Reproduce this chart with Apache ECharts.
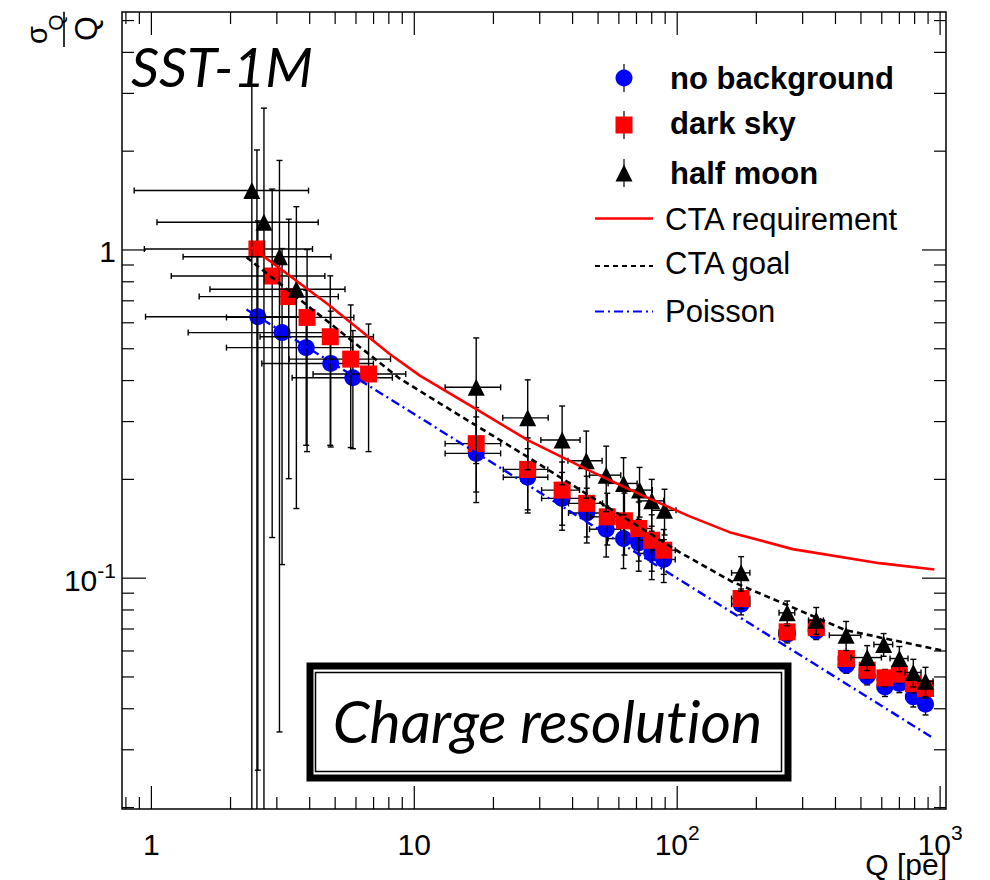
<!DOCTYPE html>
<html><head><meta charset="utf-8">
<script src="https://cdn.jsdelivr.net/npm/echarts@6/dist/echarts.min.js"></script>
<style>html,body{margin:0;padding:0;background:#fff}#c{width:990px;height:880px}#c text{font-variant-ligatures:none !important;font-feature-settings:"liga" 0,"clig" 0,"dlig" 0 !important}</style>
</head><body><div id="c"></div>
<script>
// ---------------- data ----------------
const qNoBg   = [2.54, 3.14, 3.88, 4.81, 5.84, 17.2, 27.0, 36.5, 45.3, 53.7, 62.5, 71.4, 80.0, 88.9, 175, 262, 338, 440, 528, 617, 700, 791, 880];
const sNoBg   = [0.626, 0.560, 0.504, 0.451, 0.408, 0.240, 0.203, 0.175, 0.158, 0.141, 0.132, 0.128, 0.119, 0.114, 0.0833, 0.0675, 0.069, 0.0543, 0.0503, 0.0466, 0.0478, 0.0435, 0.0413];
const qErrNoBg = [1.59, 1.76, 1.95, 2.18, 2.41, 4.1, 5.2, 6.0, 6.7, 7.3, 7.9, 8.5, 8.9, 9.4, 14, 18, 22, 30, 35, 40, 45, 48, 50];
const sErrNoBg = [0.60, 0.45, 0.25, 0.20, 0.16, 0.07, 0.045, 0.035, 0.030, 0.025, 0.025, 0.023, 0.020, 0.017, 0.006, 0.004, 0.004, 0.003, 0.003, 0.003, 0.003, 0.003, 0.003];

const qDark   = [2.52, 2.88, 3.33, 3.91, 4.79, 5.73, 6.70, 17.2, 27.0, 36.5, 45.3, 54.2, 63.0, 71.4, 80.0, 88.9, 175, 262, 338, 440, 528, 617, 700, 791, 880];
const sDark   = [1.007, 0.833, 0.721, 0.623, 0.544, 0.465, 0.419, 0.257, 0.2145, 0.1855, 0.169, 0.1538, 0.1496, 0.1417, 0.1305, 0.1217, 0.0867, 0.0686, 0.0707, 0.0569, 0.0524, 0.0497, 0.051, 0.0477, 0.0461];
const qErrDark = [1.58, 1.69, 1.81, 1.98, 2.2, 2.39, 2.58, 4.1, 5.2, 6.0, 6.7, 7.4, 7.9, 8.5, 8.9, 9.4, 14, 18, 22, 30, 35, 40, 45, 48, 50];
const sErrDark = [1.01, 0.70, 0.52, 0.38, 0.29, 0.215, 0.176, 0.074, 0.053, 0.0405, 0.0355, 0.0276, 0.032, 0.029, 0.0255, 0.019, 0.006, 0.004, 0.004, 0.003, 0.003, 0.003, 0.003, 0.003, 0.003];

const qMoon   = [2.41, 2.68, 3.07, 3.56, 17.2, 27.0, 36.5, 45.1, 53.7, 62.5, 71.9, 80.0, 89.5, 175, 262, 338, 439, 528, 610, 700, 791, 880];
const sMoon   = [1.517, 1.215, 0.954, 0.759, 0.3815, 0.308, 0.2636, 0.228, 0.206, 0.1944, 0.1855, 0.172, 0.161, 0.1038, 0.0784, 0.0744, 0.067, 0.0573, 0.0628, 0.0569, 0.0516, 0.0485];
const qErrMoon = [1.55, 1.63, 1.75, 1.89, 4.1, 5.3, 6.2, 6.7, 7.3, 7.9, 8.5, 8.9, 9.5, 14, 18, 22, 60, 70, 50, 55, 55, 60];
const sErrMoon = [2.36, 1.49, 0.92, 0.596, 0.158, 0.094, 0.071, 0.0527, 0.0465, 0.0384, 0.032, 0.028, 0.0256, 0.0125, 0.0068, 0.007, 0.0068, 0.005, 0.005, 0.005, 0.005, 0.005];

const qReq  = [2.4, 2.63, 4.76, 8.06, 10.5, 17.2, 27.0, 45.1, 71.9, 111, 158, 275, 588, 951];
const sReq  = [1.02, 0.966, 0.677, 0.482, 0.414, 0.3275, 0.2634, 0.2149, 0.1804, 0.1545, 0.1381, 0.1226, 0.1111, 0.1063];
const qGoal = [2.3, 8.79, 12.5, 27, 45, 102, 162, 245, 438, 1040];
const sGoal = [0.95, 0.406, 0.341, 0.234, 0.181, 0.120, 0.0975, 0.0847, 0.0694, 0.0600];
const qPois = [2.3, 951];
const sPois = [0.659, 0.0324];

const seriesNames = ['no background', 'dark sky', 'half moon', 'CTA requirement', 'CTA goal', 'Poisson'];

const xMajorTicks = [1, 10, 100, 1000];
const xMinorTicks = [0.8, 0.9, 2, 3, 4, 5, 6, 7, 8, 9, 20, 30, 40, 50, 60, 70, 80, 90, 200, 300, 400, 500, 600, 700, 800, 900];
const yMajorTicks = [0.1, 1];
const yMinorTicks = [0.02, 0.03, 0.04, 0.05, 0.06, 0.07, 0.08, 0.09, 0.2, 0.3, 0.4, 0.5, 0.6, 0.7, 0.8, 0.9, 2, 3, 4, 5];
const xTickLabelBase = ['1', '10', '10', '10'];
const xTickLabelExp  = ['', '', '2', '3'];
const yTickLabelBase = ['10', '1'];
const yTickLabelExp  = ['-1', ''];

const X_MIN = 0.773, X_MAX = 1053, Y_MIN = 0.0198, Y_MAX = 5.31;

// ---------------- helpers ----------------
const FONT = '"Liberation Sans", Arial, Helvetica, sans-serif';
const mctx = document.createElement('canvas').getContext('2d');
function tw(text, font) { mctx.font = font; return mctx.measureText(text).width; }
function fitSize(text, family, style, target) {
  const w = tw(text, style + ' 100px ' + family);
  return 100 * target / w;
}
const EW = 1.4;
function ln(x1, y1, x2, y2, color, w) {
  return { type: 'line', shape: { x1, y1, x2, y2 }, style: { stroke: color || '#000', lineWidth: w || EW } };
}

function errRender(params, api) {
  const q = api.value(0), s = api.value(1), ex = api.value(2), ey = api.value(3);
  const cs = params.coordSys;
  const c = api.coord([q, s]);
  const cap = 3;
  const left = (q - ex > 0) ? api.coord([q - ex, s])[0] : cs.x;
  const right = api.coord([q + ex, s])[0];
  const top = api.coord([q, s + ey])[1];
  const bottom = (s - ey > 0) ? api.coord([q, s - ey])[1] : cs.y + cs.height;
  const ch = [ln(left, c[1], right, c[1]), ln(c[0], top, c[0], bottom),
              ln(right, c[1] - cap, right, c[1] + cap),
              ln(c[0] - cap, top, c[0] + cap, top)];
  if (q - ex > 0) ch.push(ln(left, c[1] - cap, left, c[1] + cap));
  if (s - ey > 0) ch.push(ln(c[0] - cap, bottom, c[0] + cap, bottom));
  return { type: 'group', children: ch };
}
function zip4(a, b, c, d) { return a.map((v, i) => [v, b[i], c[i], d[i]]); }
function zip2(a, b) { return a.map((v, i) => [v, b[i]]); }

const xTickData = xMajorTicks.map(v => [v, 1, 1]).concat(xMinorTicks.map(v => [v, 1, 0]));
const yTickData = yMajorTicks.map(v => [1, v, 1]).concat(yMinorTicks.map(v => [1, v, 0]));
const xLabelData = xMajorTicks.map((v, i) => [v, 1, i]);
const yLabelData = yMajorTicks.map((v, i) => [1, v, i]);

const LBL = '30px ' + FONT, SUP = '21px ' + FONT;

const chart = echarts.init(document.getElementById('c'), null, { renderer: 'svg' });

const ssSize = fitSize('SST-1M', 'Lato', 'italic', 182);
const crSize = fitSize('Charge resolution', 'Lato', 'italic', 429);

const legendX = 624;
const option = {
  animation: false,
  backgroundColor: '#fff',
  grid: { left: 122, right: 44, top: 12, bottom: 71, show: true, borderColor: '#000', borderWidth: 1.5, backgroundColor: 'transparent' },
  xAxis: { type: 'log', logBase: 10, min: X_MIN, max: X_MAX, axisLine: { show: false }, axisTick: { show: false }, axisLabel: { show: false }, splitLine: { show: false } },
  yAxis: { type: 'log', logBase: 10, min: Y_MIN, max: Y_MAX, axisLine: { show: false }, axisTick: { show: false }, axisLabel: { show: false }, splitLine: { show: false } },
  series: [
    { type: 'custom', name: 'errNoBg', renderItem: errRender, data: zip4(qNoBg, sNoBg, qErrNoBg, sErrNoBg), encode: { x: 0, y: 1 }, clip: true, z: 2, silent: true },
    { type: 'scatter', name: seriesNames[0], data: zip2(qNoBg, sNoBg), symbol: 'circle', symbolSize: 17, itemStyle: { color: '#0000ff', opacity: 1 }, z: 3, clip: true },
    { type: 'custom', name: 'errDark', renderItem: errRender, data: zip4(qDark, sDark, qErrDark, sErrDark), encode: { x: 0, y: 1 }, clip: true, z: 4, silent: true },
    { type: 'scatter', name: seriesNames[1], data: zip2(qDark, sDark), symbol: 'rect', symbolSize: 17, itemStyle: { color: '#ff0000', opacity: 1 }, z: 5, clip: true },
    { type: 'custom', name: 'errMoon', renderItem: errRender, data: zip4(qMoon, sMoon, qErrMoon, sErrMoon), encode: { x: 0, y: 1 }, clip: true, z: 6, silent: true },
    { type: 'scatter', name: seriesNames[2], data: zip2(qMoon, sMoon), symbol: 'triangle', symbolSize: 17, itemStyle: { color: '#000', opacity: 1 }, z: 7, clip: true },
    { type: 'line', name: seriesNames[3], data: zip2(qReq, sReq), showSymbol: false, lineStyle: { color: '#ff0000', width: 2.6 }, z: 8 },
    { type: 'line', name: seriesNames[4], data: zip2(qGoal, sGoal), showSymbol: false, lineStyle: { color: '#000', width: 2.6, type: [6, 4] }, z: 8 },
    { type: 'line', name: seriesNames[5], data: zip2(qPois, sPois), showSymbol: false, lineStyle: { color: '#0000ff', width: 2.4, type: [9, 4, 2, 4] }, z: 8 },
    { type: 'custom', name: 'xticks', data: xTickData, encode: { x: 0, y: 1 }, clip: false, z: 9, silent: true,
      renderItem: function (params, api) {
        const cs = params.coordSys; const p = api.coord([api.value(0), 1]);
        const L = api.value(2) ? 23 : 12; const yb = cs.y + cs.height, yt = cs.y;
        return { type: 'group', children: [ln(p[0], yb, p[0], yb - L, '#000', 1.2), ln(p[0], yt, p[0], yt + L, '#000', 1.2)] };
      } },
    { type: 'custom', name: 'yticks', data: yTickData, encode: { x: 0, y: 1 }, clip: false, z: 9, silent: true,
      renderItem: function (params, api) {
        const cs = params.coordSys; const p = api.coord([1, api.value(1)]);
        const L = api.value(2) ? 24 : 12; const xl = cs.x, xr = cs.x + cs.width;
        return { type: 'group', children: [ln(xl, p[1], xl + L, p[1], '#000', 1.2), ln(xr, p[1], xr - L, p[1], '#000', 1.2)] };
      } },
    { type: 'custom', name: 'xlabels', data: xLabelData, encode: { x: 0, y: 1 }, clip: false, z: 9, silent: true,
      renderItem: function (params, api) {
        const cs = params.coordSys; const p = api.coord([api.value(0), 1]); const i = api.value(2);
        const base = xTickLabelBase[i], ex = xTickLabelExp[i];
        const wb = tw(base, LBL), we = ex ? tw(ex, SUP) : 0;
        const bx = p[0] + (wb - we) / 2; const yc = cs.y + cs.height + 35;
        const ch = [{ type: 'text', style: { text: base, x: bx, y: yc, font: LBL, fill: '#000', align: 'right', verticalAlign: 'middle' } }];
        if (ex) ch.push({ type: 'text', style: { text: ex, x: bx, y: yc - 12, font: SUP, fill: '#000', align: 'left', verticalAlign: 'middle' } });
        return { type: 'group', children: ch };
      } },
    { type: 'custom', name: 'ylabels', data: yLabelData, encode: { x: 0, y: 1 }, clip: false, z: 9, silent: true,
      renderItem: function (params, api) {
        const cs = params.coordSys; const p = api.coord([1, api.value(1)]); const i = api.value(2);
        const base = yTickLabelBase[i], ex = yTickLabelExp[i];
        const we = ex ? tw(ex, SUP) : 0; const xr = cs.x - 6; const yc = p[1] + 2;
        const ch = [{ type: 'text', style: { text: base, x: xr - we, y: yc, font: LBL, fill: '#000', align: 'right', verticalAlign: 'middle' } }];
        if (ex) ch.push({ type: 'text', style: { text: ex, x: xr, y: yc - 10, font: SUP, fill: '#000', align: 'right', verticalAlign: 'middle' } });
        return { type: 'group', children: ch };
      } }
  ],
  graphic: [
    { type: 'group', x: 64, y: 29.5, rotation: Math.PI / 2, z: 100, children: [
      { type: 'line', shape: { x1: -17.5, y1: 0, x2: 17.8, y2: 0 }, style: { stroke: '#000', lineWidth: 1.6 } },
      { type: 'text', style: { text: 'σ', x: -5.5, y: -13, font: '29px ' + FONT, fill: '#000', align: 'center', verticalAlign: 'bottom' } },
      { type: 'text', style: { text: 'Q', x: 7, y: 2, font: '21px ' + FONT, fill: '#000', align: 'center', verticalAlign: 'bottom' } },
      { type: 'text', style: { text: 'Q', x: 1, y: 38, font: '32px ' + FONT, fill: '#000', align: 'center', verticalAlign: 'bottom' } }
    ] },
    { type: 'text', z: 100, style: { text: 'Q [pe]', x: 947, y: 864, font: '30px ' + FONT, fill: '#000', align: 'right', verticalAlign: 'middle' } },
    { type: 'text', z: 100, style: { text: 'SST-1M', x: 131, y: 66, font: 'italic ' + ssSize.toFixed(1) + 'px Lato', fill: '#000', align: 'left', verticalAlign: 'middle' } },
    { type: 'rect', z: 100, shape: { x: 310, y: 666, width: 478, height: 112 }, style: { fill: '#fff', stroke: '#000', lineWidth: 7 } },
    { type: 'rect', z: 100, shape: { x: 315.5, y: 672.5, width: 466, height: 99 }, style: { fill: 'none', stroke: '#000', lineWidth: 1.5 } },
    { type: 'text', z: 101, style: { text: 'Charge resolution', x: 547.5, y: 720, font: 'italic ' + crSize.toFixed(1) + 'px Lato', fill: '#000', align: 'center', verticalAlign: 'middle' } },
    { type: 'line', z: 100, shape: { x1: legendX, y1: 64, x2: legendX, y2: 92 }, style: { stroke: '#000', lineWidth: 1.2 } },
    { type: 'circle', z: 100, shape: { cx: legendX, cy: 78, r: 8.5 }, style: { fill: '#0000ff' } },
    { type: 'text', z: 100, style: { text: seriesNames[0], x: 670, y: 78, font: 'bold 31px ' + FONT, fill: '#000', align: 'left', verticalAlign: 'middle' } },
    { type: 'line', z: 100, shape: { x1: legendX, y1: 111, x2: legendX, y2: 139 }, style: { stroke: '#000', lineWidth: 1.2 } },
    { type: 'rect', z: 100, shape: { x: legendX - 8.5, y: 116.5, width: 17, height: 17 }, style: { fill: '#ff0000' } },
    { type: 'text', z: 100, style: { text: seriesNames[1], x: 670, y: 123, font: 'bold 31px ' + FONT, fill: '#000', align: 'left', verticalAlign: 'middle' } },
    { type: 'line', z: 100, shape: { x1: legendX, y1: 159, x2: legendX, y2: 187 }, style: { stroke: '#000', lineWidth: 1.2 } },
    { type: 'polygon', z: 100, shape: { points: [[legendX, 164.5], [legendX + 8.5, 181.5], [legendX - 8.5, 181.5]] }, style: { fill: '#000' } },
    { type: 'text', z: 100, style: { text: seriesNames[2], x: 670, y: 173, font: 'bold 31px ' + FONT, fill: '#000', align: 'left', verticalAlign: 'middle' } },
    { type: 'line', z: 100, shape: { x1: 595, y1: 218.5, x2: 653, y2: 218.5 }, style: { stroke: '#ff0000', lineWidth: 2.6 } },
    { type: 'text', z: 100, style: { text: seriesNames[3], x: 665, y: 219, font: '31px ' + FONT, fill: '#000', align: 'left', verticalAlign: 'middle' } },
    { type: 'line', z: 100, shape: { x1: 595, y1: 266, x2: 653, y2: 266 }, style: { stroke: '#000', lineWidth: 2.2, lineDash: [5, 4] } },
    { type: 'text', z: 100, style: { text: seriesNames[4], x: 665, y: 263, font: '31px ' + FONT, fill: '#000', align: 'left', verticalAlign: 'middle' } },
    { type: 'line', z: 100, shape: { x1: 595, y1: 311.5, x2: 653, y2: 311.5 }, style: { stroke: '#0000ff', lineWidth: 2.2, lineDash: [9, 4, 2, 4] } },
    { type: 'text', z: 100, style: { text: seriesNames[5], x: 665, y: 311.5, font: '31px ' + FONT, fill: '#000', align: 'left', verticalAlign: 'middle' } }
  ]
};
chart.setOption(option);
</script>
</body></html>
